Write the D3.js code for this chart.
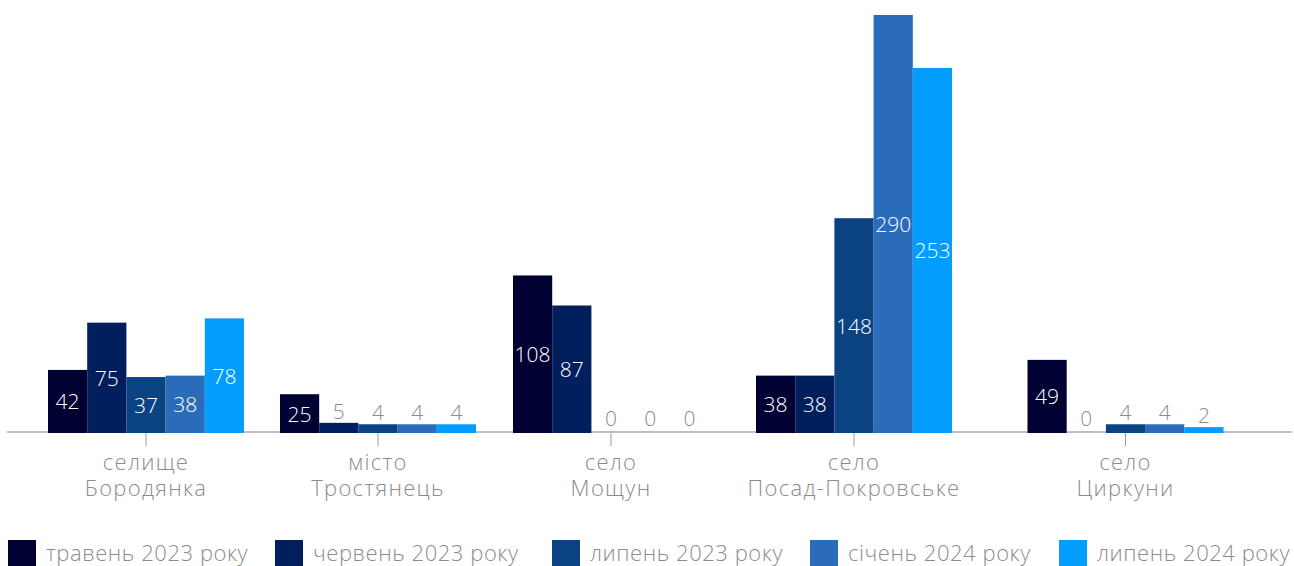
<!DOCTYPE html>
<html>
<head>
<meta charset="utf-8">
<script src="https://cdn.jsdelivr.net/npm/d3@7/dist/d3.min.js"></script>
<style>
  html, body { margin: 0; padding: 0; background: #fff; }
  svg { display: block; }
  text { font-family: "Open Sans", sans-serif; font-weight: 300; }
</style>
</head>
<body>
<svg id="chart" width="1294" height="566"></svg>
<script>
// ---- DATA ----
const categories = ["селище Бородянка", "місто Тростянець", "село Мощун", "село Посад-Покровське", "село Циркуни"];
const series = ["травень 2023 року", "червень 2023 року", "липень 2023 року", "січень 2024 року", "липень 2024 року"];
const may2023 = [42, 25, 108, 38, 49];
const jun2023 = [75, 5, 87, 38, 0];
const jul2023 = [37, 4, 0, 148, 4];
const jan2024 = [38, 4, 0, 290, 4];
const jul2024 = [78, 4, 0, 253, 2];
const seriesValues = [may2023, jun2023, jul2023, jan2024, jul2024];

// ---- LAYOUT / STYLE ----
const colors = ["#000033", "#011f5c", "#0b4282", "#2b6cba", "#039cff"];
const groupCenters = [146, 378, 611, 854, 1125.5];
const legendX = [8, 275, 552, 810, 1059];
const baseY = 432;
const grey = "#8c8c8c";

const svg = d3.select("#chart");

const x = d3.scaleOrdinal().domain(categories).range(groupCenters);
const inner = d3.scaleBand().domain(series).range([-98, 98]).padding(0);
const y = d3.scaleLinear().domain([0, 290]).range([430, 15]);

// axis line
svg.append("line")
  .attr("x1", 7).attr("x2", 1292)
  .attr("y1", baseY).attr("y2", baseY)
  .attr("stroke", "#aaaaaa").attr("stroke-width", 1.5);

// bars
const rows = [];
series.forEach((s, si) => {
  categories.forEach((c, ci) => {
    rows.push({ s, si, c, v: seriesValues[si][ci] });
  });
});

svg.append("g").selectAll("rect")
  .data(rows.filter(d => d.v > 0))
  .join("rect")
  .attr("x", d => x(d.c) + inner(d.s))
  .attr("width", inner.bandwidth())
  .attr("y", d => y(d.v))
  .attr("height", d => baseY + 1 - y(d.v))
  .attr("fill", d => colors[d.si]);

// value labels
svg.append("g").selectAll("text")
  .data(rows)
  .join("text")
  .attr("x", d => x(d.c) + inner(d.s) + inner.bandwidth() / 2)
  .attr("y", d => d.v >= 20 ? (y(d.v) + baseY + 1) / 2 : y(d.v) - 12)
  .attr("text-anchor", "middle")
  .attr("dominant-baseline", "central")
  .attr("font-size", 21)
  .attr("fill", d => d.v >= 20 ? "#ffffff" : grey)
  .text(d => d.v);

// category ticks & labels
const cat = svg.append("g").selectAll("g")
  .data(categories)
  .join("g")
  .attr("transform", d => `translate(${x(d)},0)`);

cat.append("line")
  .attr("y1", baseY + 1).attr("y2", baseY + 14)
  .attr("stroke", "#999").attr("stroke-width", 1);

cat.append("text")
  .attr("text-anchor", "middle")
  .attr("font-size", 22)
  .attr("letter-spacing", 1.3)
  .attr("fill", grey)
  .each(function(d) {
    const i = d.indexOf(" ");
    const lines = [d.slice(0, i), d.slice(i + 1)];
    d3.select(this).selectAll("tspan")
      .data(lines)
      .join("tspan")
      .attr("x", 0)
      .attr("y", (l, k) => 470 + k * 25.5)
      .text(l => l);
  });

// legend
const leg = svg.append("g").selectAll("g")
  .data(series)
  .join("g")
  .attr("transform", (d, i) => `translate(${legendX[i]},540)`);

leg.append("rect")
  .attr("width", 28).attr("height", 28)
  .attr("fill", (d, i) => colors[i]);

leg.append("text")
  .attr("x", 38).attr("y", 21)
  .attr("font-size", 22)
  .attr("letter-spacing", 0.55)
  .attr("fill", grey)
  .text(d => d);
</script>
</body>
</html>
